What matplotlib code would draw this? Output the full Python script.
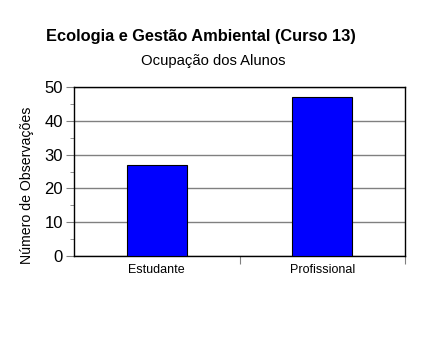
import matplotlib
matplotlib.use("Agg")
import matplotlib.pyplot as plt
from matplotlib.ticker import MultipleLocator

plt.rcParams['font.family'] = ['Liberation Sans', 'DejaVu Sans']

categorias = ["Estudante", "Profissional"]
observacoes = [27, 47]

W, H = 441, 362
fig = plt.figure(figsize=(W / 100, H / 100), dpi=100)
ax = fig.add_axes([74 / W, 1 - 256 / H, (405 - 74) / W, (256 - 87) / H])

x = range(len(categorias))
ax.bar(x, observacoes, width=0.36, color="#0000ff", edgecolor="black", linewidth=0.8, zorder=3)

ax.set_xlim(-0.5, 1.5)
ax.set_ylim(0, 50)
ax.yaxis.set_major_locator(MultipleLocator(10))
ax.yaxis.set_minor_locator(MultipleLocator(5))
ax.grid(axis="y", color="#808080", linewidth=1, zorder=0)
ax.tick_params(axis="y", which="both", direction="out", color="#808080", labelsize=12, pad=2)
ax.tick_params(axis="y", which="major", length=6)
ax.tick_params(axis="y", which="minor", length=3)

# category separators on the x axis
ax.set_xticks([0.5, 1.5])
ax.set_xticklabels([])
ax.set_xticks(list(x), minor=True)
ax.set_xticklabels(categorias, minor=True, fontsize=9)
ax.tick_params(axis="x", which="major", direction="out", color="#808080", length=6)
ax.tick_params(axis="x", which="minor", length=0, pad=6)

for s in ax.spines.values():
    s.set_color("black")
    s.set_linewidth(1)

ax.set_ylabel("Número de Observações", fontsize=10.2)
ax.yaxis.set_label_coords(-40 / (405 - 74), 0.42)

fig.text(201 / W, 1 - 37 / H, "Ecologia e Gestão Ambiental (Curso 13)", ha="center", va="center",
         fontsize=11.8, fontweight="bold")
fig.text(213 / W, 1 - 61 / H, "Ocupação dos Alunos", ha="center", va="center", fontsize=10.7)

fig.savefig("out.png", dpi=100)
